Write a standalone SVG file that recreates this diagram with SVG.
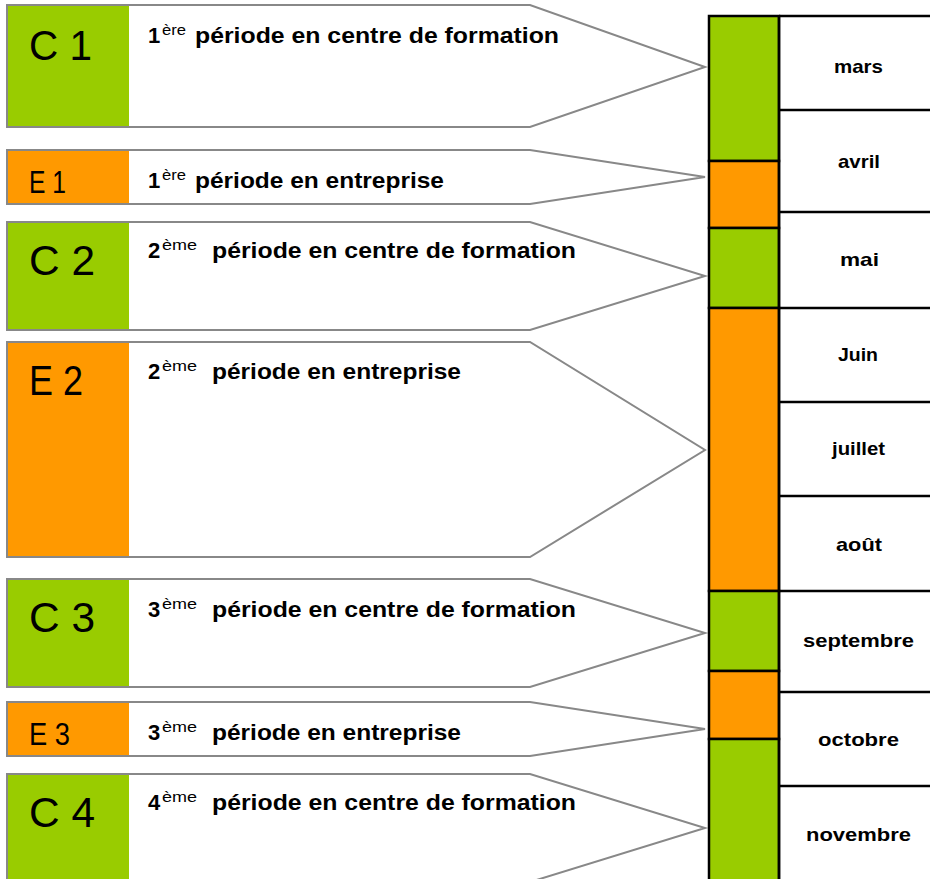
<svg xmlns="http://www.w3.org/2000/svg" width="930" height="879" viewBox="0 0 930 879">
<style>
.arrow{fill:#fff;stroke:#888;stroke-width:2}
.g{fill:#99cc00}
.o{fill:#ff9900}
.big{font-family:"Liberation Sans",Arial,sans-serif;font-size:42px;fill:#000}
.mid{font-family:"Liberation Sans",Arial,sans-serif;font-size:31px;fill:#000}
.t{font-family:"Liberation Sans",Arial,sans-serif;font-size:22px;font-weight:bold;fill:#000}
.sup{font-family:"Liberation Sans",Arial,sans-serif;font-size:14px;fill:#000}
.m{font-family:"Liberation Sans",Arial,sans-serif;font-size:19px;font-weight:bold;fill:#000}
.blk{stroke:#000;stroke-width:2.5}
.ln{stroke:#000;stroke-width:2.5;fill:none}
</style>
<rect width="930" height="879" fill="#fff"/>
<g id="C1">
<polygon class="arrow" points="7,5 530,5 705,67 530,127 7,127"/>
<rect class="g" x="8" y="6" width="121" height="120"/>
<text class="big" x="29" y="60" textLength="63" lengthAdjust="spacingAndGlyphs">C 1</text>
<text class="t" x="148" y="43">1</text><text class="sup" x="162" y="35" textLength="24" lengthAdjust="spacingAndGlyphs">ère</text>
<text class="t" x="195" y="43" textLength="364" lengthAdjust="spacingAndGlyphs">période en centre de formation</text>
</g>
<g id="E1">
<polygon class="arrow" points="7,150 530,150 705,177 530,204 7,204"/>
<rect class="o" x="8" y="151" width="121" height="52"/>
<text class="mid" x="29" y="193" textLength="37" lengthAdjust="spacingAndGlyphs">E 1</text>
<text class="t" x="148" y="188">1</text><text class="sup" x="162" y="180" textLength="24" lengthAdjust="spacingAndGlyphs">ère</text>
<text class="t" x="195" y="188" textLength="249" lengthAdjust="spacingAndGlyphs">période en entreprise</text>
</g>
<g id="C2">
<polygon class="arrow" points="7,222 530,222 705,276 530,330 7,330"/>
<rect class="g" x="8" y="223" width="121" height="106"/>
<text class="big" x="29" y="275" textLength="66" lengthAdjust="spacingAndGlyphs">C 2</text>
<text class="t" x="148" y="258">2</text><text class="sup" x="162" y="250" textLength="35" lengthAdjust="spacingAndGlyphs">ème</text>
<text class="t" x="212" y="258" textLength="364" lengthAdjust="spacingAndGlyphs">période en centre de formation</text>
</g>
<g id="E2">
<polygon class="arrow" points="7,342 530,342 705,450 530,557 7,557"/>
<rect class="o" x="8" y="343" width="121" height="213"/>
<text class="big" x="29" y="395" textLength="54" lengthAdjust="spacingAndGlyphs">E 2</text>
<text class="t" x="148" y="379">2</text><text class="sup" x="162" y="371" textLength="35" lengthAdjust="spacingAndGlyphs">ème</text>
<text class="t" x="212" y="379" textLength="249" lengthAdjust="spacingAndGlyphs">période en entreprise</text>
</g>
<g id="C3">
<polygon class="arrow" points="7,579 530,579 705,633 530,687 7,687"/>
<rect class="g" x="8" y="580" width="121" height="106"/>
<text class="big" x="29" y="632" textLength="66" lengthAdjust="spacingAndGlyphs">C 3</text>
<text class="t" x="148" y="617">3</text><text class="sup" x="162" y="609" textLength="35" lengthAdjust="spacingAndGlyphs">ème</text>
<text class="t" x="212" y="617" textLength="364" lengthAdjust="spacingAndGlyphs">période en centre de formation</text>
</g>
<g id="E3">
<polygon class="arrow" points="7,702 530,702 705,729 530,756 7,756"/>
<rect class="o" x="8" y="703" width="121" height="52"/>
<text class="mid" x="29" y="745" textLength="41" lengthAdjust="spacingAndGlyphs">E 3</text>
<text class="t" x="148" y="740">3</text><text class="sup" x="162" y="732" textLength="35" lengthAdjust="spacingAndGlyphs">ème</text>
<text class="t" x="212" y="740" textLength="249" lengthAdjust="spacingAndGlyphs">période en entreprise</text>
</g>
<g id="C4">
<polygon class="arrow" points="7,774 530,774 705,828 530,882 7,882"/>
<rect class="g" x="8" y="775" width="121" height="106"/>
<text class="big" x="29" y="827" textLength="66" lengthAdjust="spacingAndGlyphs">C 4</text>
<text class="t" x="148" y="810">4</text><text class="sup" x="162" y="802" textLength="35" lengthAdjust="spacingAndGlyphs">ème</text>
<text class="t" x="212" y="810" textLength="364" lengthAdjust="spacingAndGlyphs">période en centre de formation</text>
</g>
<g id="timeline">
<rect class="g blk" x="709" y="16" width="70" height="145"/>
<rect class="o blk" x="709" y="161" width="70" height="67"/>
<rect class="g blk" x="709" y="228" width="70" height="80"/>
<rect class="o blk" x="709" y="308" width="70" height="283"/>
<rect class="g blk" x="709" y="591" width="70" height="80"/>
<rect class="o blk" x="709" y="671" width="70" height="68"/>
<rect class="g blk" x="709" y="739" width="70" height="145"/>
<path class="ln" d="M779 16V879M779 16H932M779 110H932M779 212H932M779 308H932M779 402H932M779 496H932M779 591H932M779 692H932M779 786H932"/>
</g>
<g id="months">
<text class="m" x="834" y="73" textLength="49" lengthAdjust="spacingAndGlyphs">mars</text>
<text class="m" x="838" y="168" textLength="42" lengthAdjust="spacingAndGlyphs">avril</text>
<text class="m" x="840" y="266" textLength="39" lengthAdjust="spacingAndGlyphs">mai</text>
<text class="m" x="838" y="361" textLength="40" lengthAdjust="spacingAndGlyphs">Juin</text>
<text class="m" x="832" y="455" textLength="53" lengthAdjust="spacingAndGlyphs">juillet</text>
<text class="m" x="836" y="551" textLength="46" lengthAdjust="spacingAndGlyphs">août</text>
<text class="m" x="803" y="647" textLength="111" lengthAdjust="spacingAndGlyphs">septembre</text>
<text class="m" x="818" y="746" textLength="81" lengthAdjust="spacingAndGlyphs">octobre</text>
<text class="m" x="806" y="841" textLength="105" lengthAdjust="spacingAndGlyphs">novembre</text>
</g>
</svg>
